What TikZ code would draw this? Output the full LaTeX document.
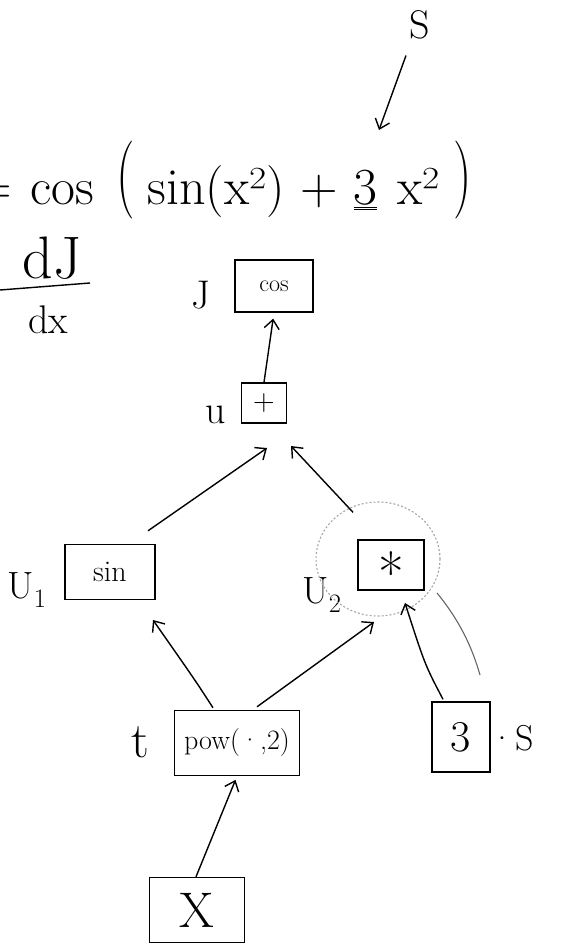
\documentclass[tikz,border=0pt]{standalone}
\usepackage{fontspec}
\usetikzlibrary{arrows.meta}
\tikzset{
  opbox/.style={draw, line width=1.4pt, inner sep=0pt},
  arr/.style={line width=1.4pt, -{Straight Barb[length=9pt,width=15pt,line width=1.4pt]}},
  lbl/.style={inner sep=0pt, font=\fontsize{40}{44}\selectfont},
  faint/.style={draw=black!35, line width=1.1pt, dash pattern=on 2pt off 2pt}
}
\newcommand{\bigparen}[1]{\raisebox{0.11em}{\scalebox{1}[1.5]{#1}}}
\begin{document}
\begin{tikzpicture}[x=1pt,y=-1pt]
\useasboundingbox (0,0) rectangle (568,949);

% equation at the top
\node[anchor=base west, inner sep=0pt, font=\fontsize{52}{56}\selectfont] (eq) at (-26,205)
  {=\hspace{19pt}cos\hspace{22pt}\bigparen{(}\hspace{13pt}sin(x²)\hspace{15pt}+\hspace{16pt}\underline{\underline{3}}\hspace{20pt}x²\hspace{14pt}\bigparen{)}};
\node[inner sep=0pt, font=\fontsize{40}{44}\selectfont] (topS) at (420,25) {S};
\coordinate (Sarr) at (379,130);
\draw[arr] (topS.south) ++(-14,16) -- (Sarr);

% dJ/dx
\node[inner sep=0pt, font=\fontsize{60}{64}\selectfont] (dJ) at (52,258) {dJ};
\node[inner sep=0pt, font=\fontsize{40}{44}\selectfont] (dx) at (48,320) {dx};
\draw[line width=1.4pt] (0,290) -- (90,283);

% operation boxes
\node[opbox, minimum width=78pt, minimum height=52pt, font=\fontsize{24}{28}\selectfont] (cos) at (274,286) {cos};
\node[opbox, minimum width=45pt, minimum height=40pt, font=\fontsize{30}{34}\selectfont] (plus) at (264,403) {+};
\node[opbox, minimum width=66pt, minimum height=50pt, font=\fontsize{56}{60}\selectfont] (star) at (391,565) {\raisebox{-0.5em}[0pt][0pt]{*}};
\node[opbox, minimum width=90pt, minimum height=55pt, font=\fontsize{30}{34}\selectfont] (sin) at (110,572) {sin};
\node[opbox, minimum width=125pt, minimum height=65pt, font=\fontsize{28}{32}\selectfont] (pow) at (237,743) {pow(·,2)};
\node[opbox, minimum width=58pt, minimum height=70pt, font=\fontsize{44}{48}\selectfont] (three) at (461,737) {3};
\node[opbox, minimum width=95pt, minimum height=65pt, font=\fontsize{50}{54}\selectfont] (x) at (197,910) {X};

% labels
\node[lbl] (lJ) at (201,295) {J};
\node[lbl] (lu) at (216,415) {u};
\node[lbl, font=\fontsize{38}{42}\selectfont] (lu1) at (27,590) {U\textsubscript{1}};
\node[lbl, font=\fontsize{38}{42}\selectfont] (lu2) at (322,595) {U\textsubscript{2}};
\node[lbl, font=\fontsize{50}{54}\selectfont] (lt) at (140,742) {t};
\node[lbl, font=\fontsize{36}{40}\selectfont] (lS) at (512,738) {·S};

% circle around the product node
\draw[faint] (378,559) ellipse (62pt and 57pt);
\draw[black!60, line width=1.1pt] (437,593) .. controls (455,615) and (470,640) .. (480,675);

% connectors
\coordinate (pinL) at (267,448);
\coordinate (pinR) at (291,446);
\coordinate (pinS1) at (153,620);
\coordinate (pinS2) at (374,622);
\coordinate (pinM) at (405,603);
\draw[arr, shorten >=6pt] (plus.north) -- (cos.south);
\draw[arr] ([shift={(38,-13)}]sin.north) -- (pinL);
\draw[arr] ([shift={(-38,-27)}]star.north) -- (pinR);
\draw[arr] ([shift={(-24,-2)}]pow.north) .. controls (195,680) .. (pinS1);
\draw[arr] ([shift={(20,-3)}]pow.north) -- (pinS2);
\draw[arr] ([shift={(-18,-2)}]three.north) .. controls (425,665) .. (pinM);
\draw[arr, shorten >=4pt] ([xshift=-1pt]x.north) -- (pow.south);
\end{tikzpicture}
\end{document}
